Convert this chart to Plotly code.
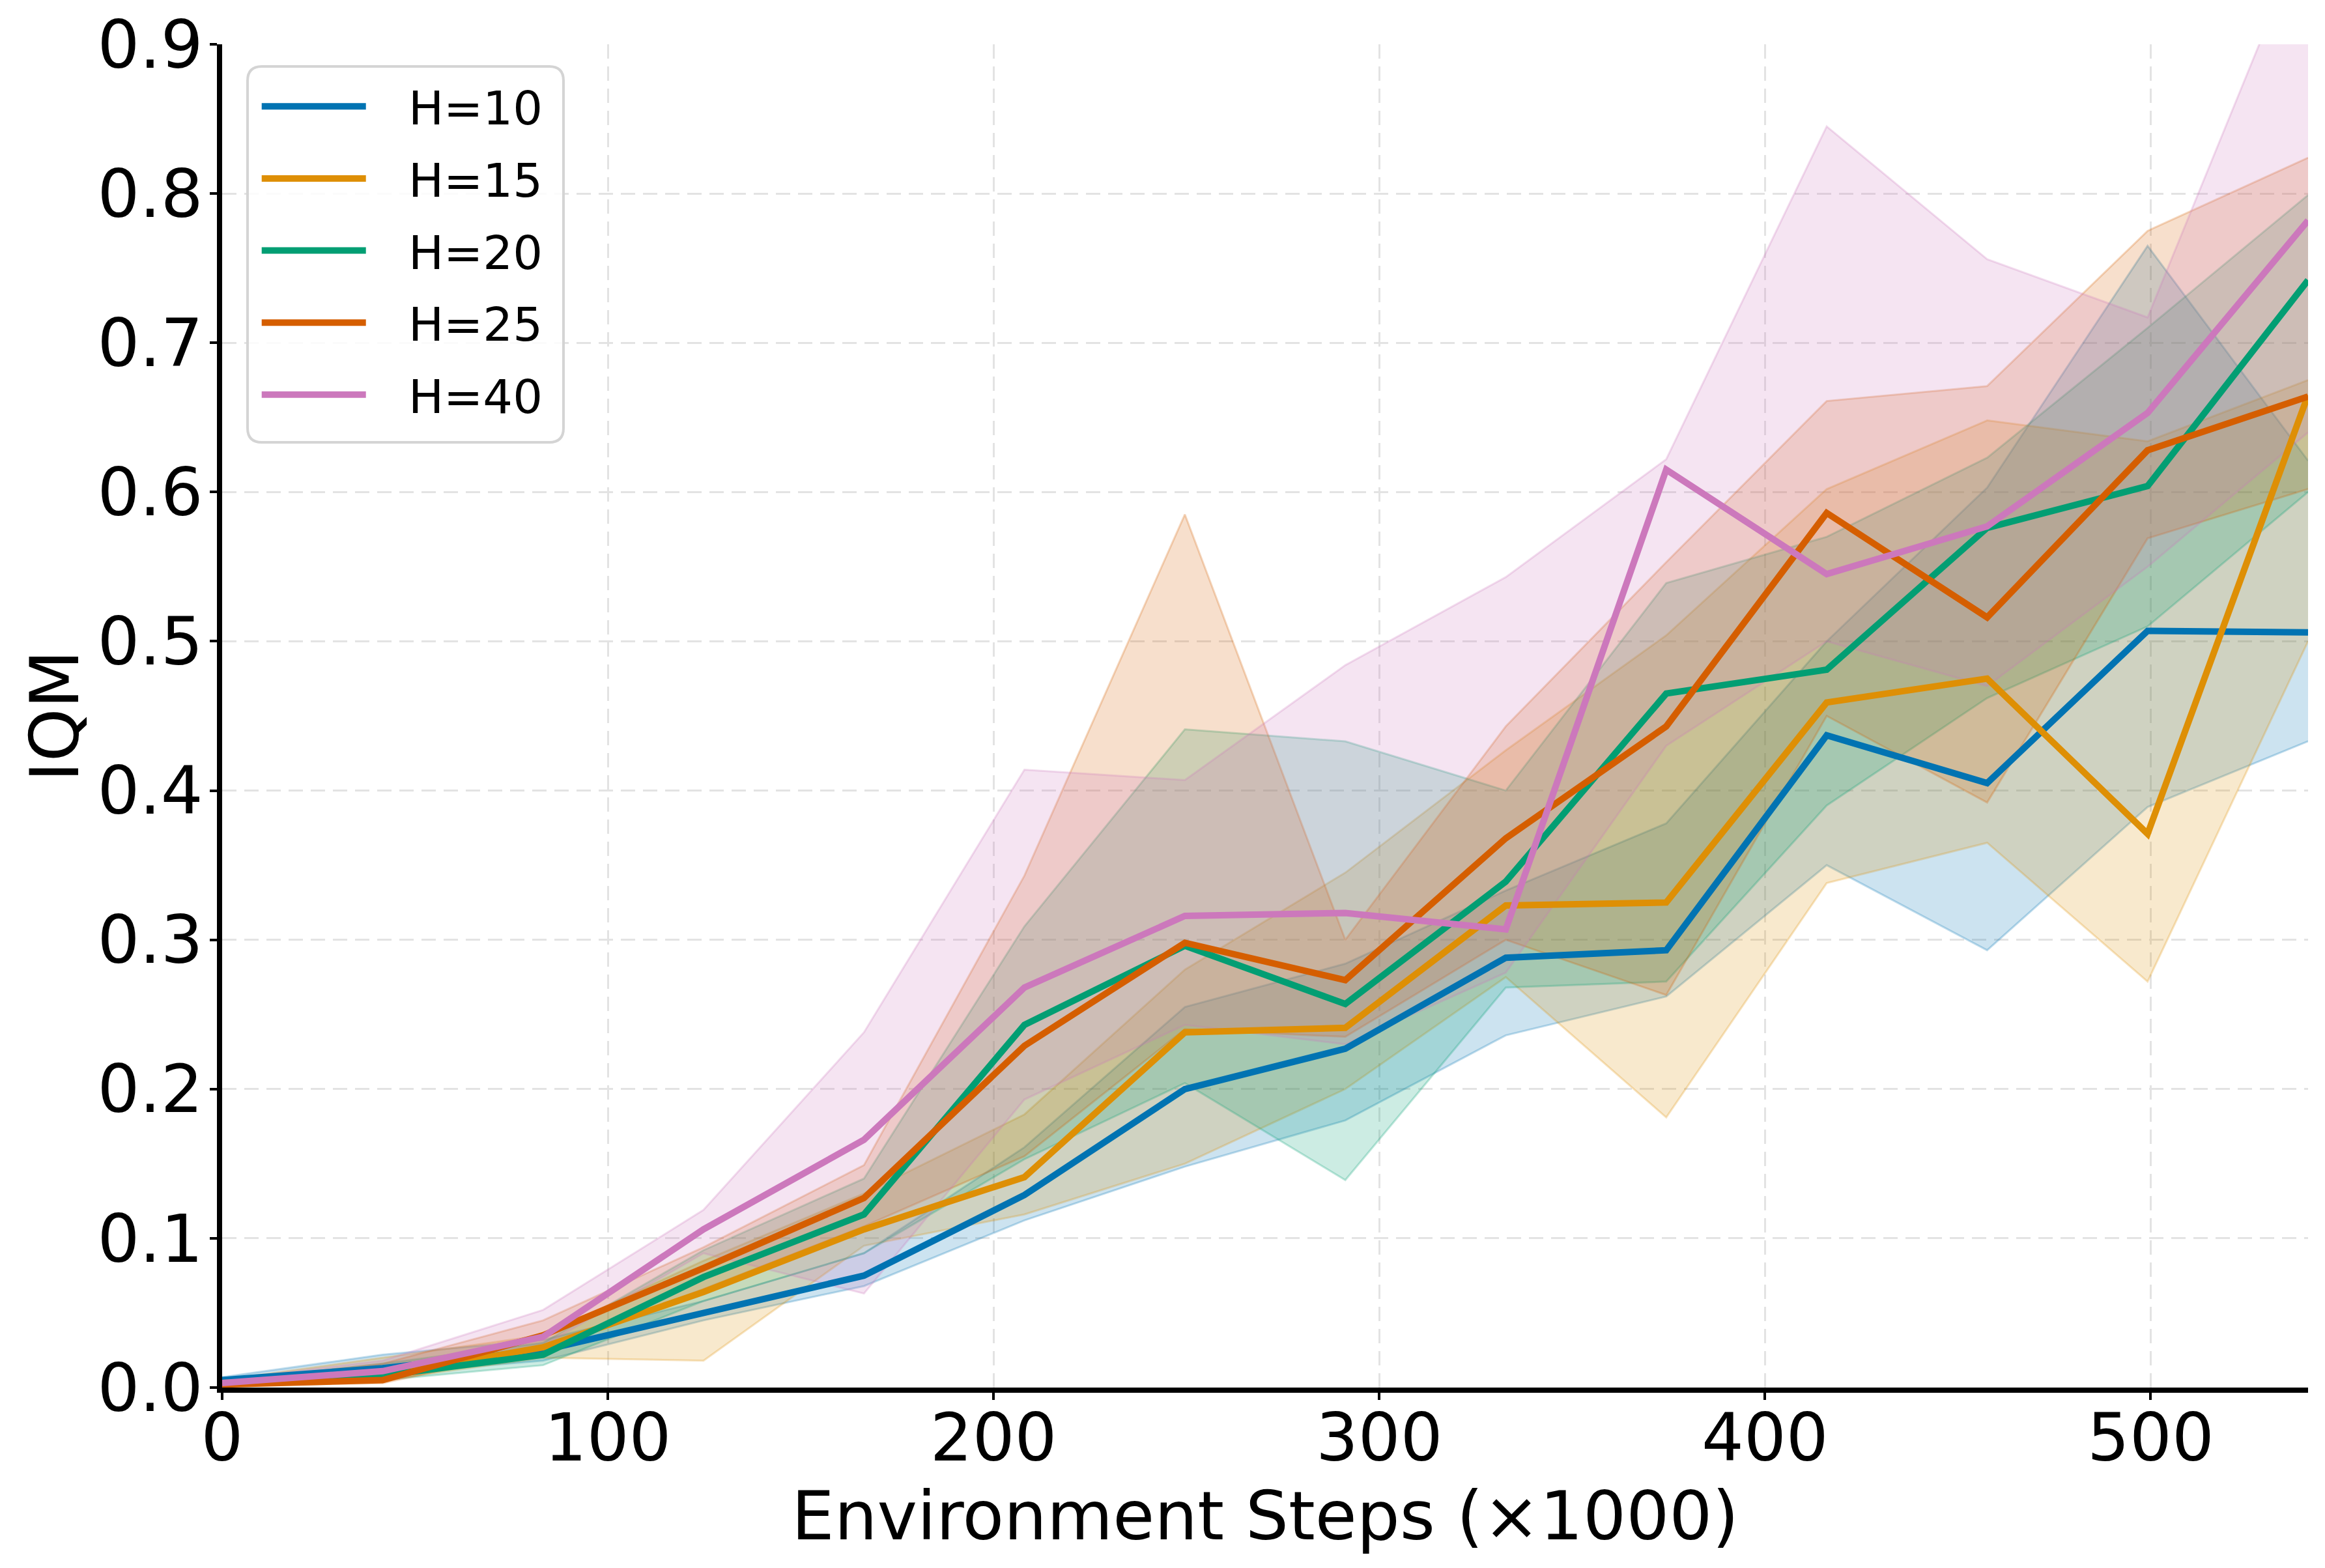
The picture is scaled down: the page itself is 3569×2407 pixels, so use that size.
import plotly.graph_objects as go

# ---- data ----
x_steps = [0, 41.6, 83.2, 124.8, 166.4, 208.0, 249.6, 291.2, 332.8, 374.4, 416.0, 457.6, 499.2, 540.8]

h10_mean = [0.005, 0.013, 0.025, 0.050, 0.075, 0.129, 0.200, 0.227, 0.288, 0.293, 0.437, 0.405, 0.507, 0.506]
h10_low  = [0.003, 0.009, 0.018, 0.045, 0.068, 0.112, 0.148, 0.179, 0.236, 0.262, 0.350, 0.293, 0.389, 0.433]
h10_high = [0.007, 0.022, 0.032, 0.058, 0.090, 0.161, 0.255, 0.284, 0.333, 0.378, 0.500, 0.603, 0.765, 0.621]

h15_mean = [0.003, 0.008, 0.027, 0.064, 0.106, 0.141, 0.238, 0.241, 0.323, 0.325, 0.459, 0.475, 0.371, 0.665]
h15_low  = [0.002, 0.005, 0.020, 0.018, 0.095, 0.116, 0.150, 0.200, 0.275, 0.181, 0.338, 0.365, 0.272, 0.500]
h15_high = [0.005, 0.020, 0.035, 0.085, 0.130, 0.183, 0.280, 0.345, 0.427, 0.504, 0.602, 0.648, 0.634, 0.675]

h20_mean = [0.003, 0.008, 0.022, 0.074, 0.116, 0.243, 0.296, 0.257, 0.339, 0.465, 0.481, 0.576, 0.604, 0.742]
h20_low  = [0.002, 0.005, 0.015, 0.058, 0.090, 0.153, 0.204, 0.139, 0.268, 0.272, 0.390, 0.462, 0.510, 0.600]
h20_high = [0.004, 0.016, 0.030, 0.092, 0.140, 0.309, 0.441, 0.433, 0.400, 0.539, 0.570, 0.623, 0.710, 0.799]

h25_mean = [0.002, 0.005, 0.035, 0.080, 0.127, 0.229, 0.298, 0.273, 0.368, 0.443, 0.586, 0.516, 0.628, 0.664]
h25_low  = [0.001, 0.003, 0.026, 0.066, 0.108, 0.155, 0.240, 0.235, 0.300, 0.263, 0.450, 0.392, 0.569, 0.602]
h25_high = [0.004, 0.016, 0.045, 0.094, 0.149, 0.343, 0.585, 0.300, 0.443, 0.553, 0.661, 0.671, 0.775, 0.824]

h40_mean = [0.003, 0.011, 0.034, 0.106, 0.166, 0.268, 0.316, 0.318, 0.307, 0.615, 0.545, 0.577, 0.653, 0.782]
h40_low  = [0.001, 0.006, 0.028, 0.090, 0.063, 0.193, 0.243, 0.230, 0.278, 0.430, 0.500, 0.470, 0.550, 0.640]
h40_high = [0.005, 0.018, 0.052, 0.119, 0.238, 0.414, 0.407, 0.484, 0.543, 0.622, 0.845, 0.756, 0.717, 0.980]

labels = ["H=10", "H=15", "H=20", "H=25", "H=40"]
colors = ["#0173B2", "#DE8F05", "#029E73", "#D55E00", "#CC78BC"]
means = [h10_mean, h15_mean, h20_mean, h25_mean, h40_mean]
lows = [h10_low, h15_low, h20_low, h25_low, h40_low]
highs = [h10_high, h15_high, h20_high, h25_high, h40_high]

x_ticks = [0, 100, 200, 300, 400, 500]
y_ticks = [0.0, 0.1, 0.2, 0.3, 0.4, 0.5, 0.6, 0.7, 0.8, 0.9]


def rgba(hex_color, a):
    h = hex_color.lstrip("#")
    r, g, b = int(h[0:2], 16), int(h[2:4], 16), int(h[4:6], 16)
    return f"rgba({r},{g},{b},{a})"


fig = go.Figure()

# bands
for lab, col, lo, hi in zip(labels, colors, lows, highs):
    fig.add_trace(go.Scatter(
        x=x_steps, y=lo, mode="lines",
        line=dict(color=rgba(col, 0.25), width=3),
        showlegend=False, hoverinfo="skip", legendgroup=lab))
    fig.add_trace(go.Scatter(
        x=x_steps, y=hi, mode="lines", fill="tonexty",
        fillcolor=rgba(col, 0.2),
        line=dict(color=rgba(col, 0.25), width=3),
        showlegend=False, hoverinfo="skip", legendgroup=lab))

# mean lines
for lab, col, m in zip(labels, colors, means):
    fig.add_trace(go.Scatter(
        x=x_steps, y=m, mode="lines", name="\u2007\u2009" + lab,
        line=dict(color=col, width=10), legendgroup=lab))

tick_font = dict(family="DejaVu Sans", size=102, color="black")
title_font = dict(family="DejaVu Sans", size=104, color="black")

# page has an 8px body margin; plot area target (page px): x 341..3543, y 68..2130
W, H = 3561, 2399
L, R, T, B = 333, 26, 60, 277
pw, ph = W - L - R, H - T - B
px0, py0 = 8 + L, 8 + T


def paper_x(p):
    return (p - px0) / pw


def paper_y(p):
    return 1 - (p - py0) / ph


x0, x1 = paper_x(380), paper_x(865)
y1, y0 = paper_y(102), paper_y(679)
rx, ry = 22 / pw, 22 / ph
frame_path = (
    f"M {x0+rx},{y0} L {x1-rx},{y0} Q {x1},{y0} {x1},{y0+ry} "
    f"L {x1},{y1-ry} Q {x1},{y1} {x1-rx},{y1} "
    f"L {x0+rx},{y1} Q {x0},{y1} {x0},{y1-ry} "
    f"L {x0},{y0+ry} Q {x0},{y0} {x0+rx},{y0} Z"
)

fig.update_layout(
    width=W, height=H,
    paper_bgcolor="white", plot_bgcolor="white",
    margin=dict(l=L, r=R, t=T, b=B, autoexpand=False),
    font=dict(family="DejaVu Sans", color="black"),
    showlegend=True,
    shapes=[dict(type="path", xref="paper", yref="paper", path=frame_path,
                 fillcolor="rgba(255,255,255,0.85)",
                 line=dict(color="#d4d4d4", width=4), layer="above")],
    annotations=[dict(text="IQM", xref="paper", yref="paper",
                      x=paper_x(84), y=0.5, xanchor="center", yanchor="middle",
                      textangle=-90, showarrow=False, font=title_font)],
    legend=dict(
        x=0.0174, y=0.9796, xanchor="left", yanchor="top",
        bgcolor="rgba(0,0,0,0)", borderwidth=0,
        font=dict(family="DejaVu Sans", size=72, color="black"),
        itemwidth=160, tracegroupgap=14,
    ),
    xaxis=dict(
        range=[0, 540.8], tickvals=x_ticks, ticktext=[str(v) for v in x_ticks],
        showline=True, linecolor="black", linewidth=8,
        ticks="outside", ticklen=11, tickwidth=4, tickcolor="black",
        tickfont=tick_font, ticklabelstandoff=-29, ticklabeloverflow="allow",
        automargin=False,
        showgrid=True, gridcolor="#e3e3e3", gridwidth=3, griddash="22px,12px",
        zeroline=False,
        title=dict(text="Environment Steps (×1000)", font=title_font, standoff=16),
    ),
    yaxis=dict(
        range=[0, 0.9], tickvals=y_ticks, ticktext=[f"{v:.1f}" for v in y_ticks],
        showline=True, linecolor="black", linewidth=8,
        ticks="outside", ticklen=11, tickwidth=4, tickcolor="black",
        tickfont=tick_font, ticklabelstandoff=-10, ticklabeloverflow="allow",
        automargin=False,
        showgrid=True, gridcolor="#e3e3e3", gridwidth=3, griddash="22px,12px",
        zeroline=False,
    ),
)

fig.write_html("out.html")
